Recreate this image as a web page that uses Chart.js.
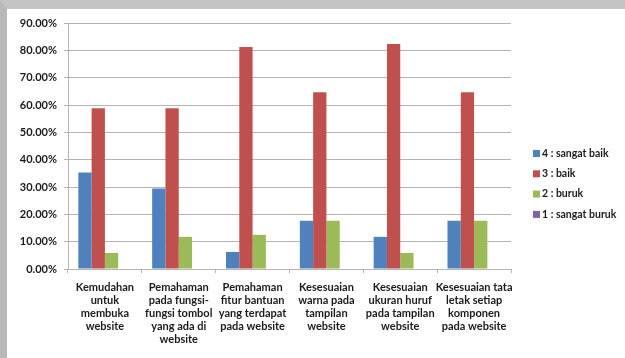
<!DOCTYPE html>
<html lang="id">
  <head>
    <meta charset="UTF-8" />
    <title>Penilaian tampilan website</title>
    <style>
      * {
        margin: 0;
        padding: 0;
        box-sizing: border-box;
      }
      body {
        width: 625px;
        height: 358px;
        overflow: hidden;
        background: #ffffff;
      }
      .frame {
        position: absolute;
        left: 0;
        top: 0;
        width: 625px;
        height: 358px;
        background: #ffffff;
        border-top: 9px solid #c4c4c4;
        border-left: 7px solid #b8b8b8;
      }
      #myChart {
        position: absolute;
        left: 0;
        top: 0;
      }
    </style>
  </head>
  <body>
    <div class="frame"></div>
    <canvas id="myChart" width="625" height="358"></canvas>

    <script src="https://cdn.jsdelivr.net/npm/chart.js"></script>

    <script>
      const categories = [
        ["Kemudahan", "untuk", "membuka", "website"],
        ["Pemahaman", "pada fungsi-", "fungsi tombol", "yang ada di", "website"],
        ["Pemahaman", "fitur bantuan", "yang terdapat", "pada website"],
        ["Kesesuaian", "warna pada", "tampilan", "website"],
        ["Kesesuaian", "ukuran huruf", "pada tampilan", "website"],
        ["Kesesuaian tata", "letak setiap", "komponen", "pada website"],
      ];
      const sangatBaik = [35.29, 29.41, 6.25, 17.65, 11.76, 17.65];
      const baik = [58.82, 58.82, 81.25, 64.71, 82.35, 64.71];
      const buruk = [5.88, 11.76, 12.5, 17.65, 5.88, 17.65];
      const sangatBuruk = [0, 0, 0, 0, 0, 0];
      const seriesNames = ["4 : sangat baik", "3 : baik", "2 : buruk", "1 : sangat buruk"];
      const seriesColors = ["#4f81bd", "#c0504d", "#9bbb59", "#8064a2"];

      const font = "Lato, 'DejaVu Sans', sans-serif";
      const textColor = "#1a1a1a";
      const gridColor = "#b4b4b4";

      // legend on the right, drawn by hand so it sits where the original is
      const sideLegend = {
        id: "sideLegend",
        afterDraw(chart) {
          const { ctx, data } = chart;
          ctx.save();
          ctx.font = "bold 10.5px " + font;
          ctx.textBaseline = "middle";
          const x = 533;
          const y0 = 153.5;
          const step = 20.3;
          data.datasets.forEach((ds, i) => {
            const y = y0 + i * step;
            ctx.fillStyle = ds.backgroundColor;
            ctx.fillRect(x, y - 3.5, 7, 7);
            ctx.fillStyle = textColor;
            ctx.fillText(ds.label, x + 9, y);
          });
          ctx.restore();
        },
      };

      const data = {
        labels: categories,
        datasets: [sangatBaik, baik, buruk, sangatBuruk].map((values, i) => ({
          label: seriesNames[i],
          data: values,
          backgroundColor: seriesColors[i],
          borderWidth: 0,
        })),
      };

      const config = {
        type: "bar",
        data: data,
        options: {
          responsive: false,
          animation: false,
          layout: {
            padding: { left: 0, right: 114, top: 23, bottom: 0 },
          },
          datasets: {
            bar: { categoryPercentage: 0.72, barPercentage: 1 },
          },
          plugins: {
            legend: { display: false },
            tooltip: { enabled: false },
          },
          scales: {
            x: {
              grid: {
                display: true,
                drawOnChartArea: false,
                drawTicks: true,
                tickLength: 4,
                offset: true,
                color: gridColor,
              },
              border: { color: gridColor },
              ticks: {
                color: textColor,
                font: { family: font, size: 11, weight: "bold", lineHeight: "13px" },
                padding: 8,
                maxRotation: 0,
                autoSkip: false,
              },
              afterFit(scale) {
                scale.height = 89;
              },
            },
            y: {
              min: 0,
              max: 90,
              ticks: {
                stepSize: 10,
                color: textColor,
                font: { family: font, size: 11, weight: "bold" },
                padding: 7,
                callback: (v) => v.toFixed(2) + "%",
              },
              grid: {
                color: gridColor,
                tickLength: 4,
              },
              border: { color: gridColor },
              afterFit(scale) {
                scale.width = 68;
              },
            },
          },
        },
        plugins: [sideLegend],
      };

      const myChart = new Chart(document.getElementById("myChart"), config);
    </script>
  </body>
</html>
